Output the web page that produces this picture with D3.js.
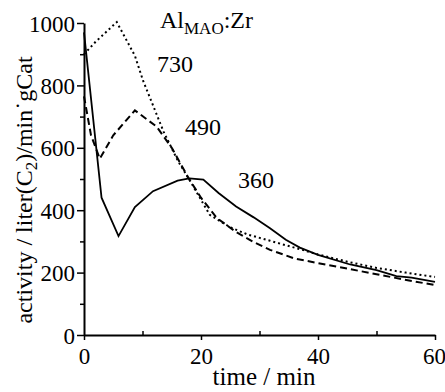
<!DOCTYPE html>
<html>
<head>
<meta charset="utf-8">
<script src="https://cdn.jsdelivr.net/npm/d3@7"></script>
<style>
  body { margin: 0; background: #fff; }
</style>
</head>
<body>
<div id="chart"></div>
<script>
// Activity curves for three Al(MAO):Zr ratios
var time_360 = [0, 3, 5.9, 8.7, 11.8, 16, 18, 20.4, 23, 26, 29, 31.8, 34.5, 36.9, 40, 45.5, 50, 53.4, 56, 60];
var act_360 = [970, 440, 317, 410, 461, 495, 502, 498, 455, 412, 377, 342, 305, 280, 257, 226, 208, 189, 184, 170];

var time_730 = [0, 2, 5.6, 8.7, 10.1, 13.6, 16, 18.1, 21.5, 25, 28, 31.8, 35, 37.5, 40, 45, 50, 55, 60];
var act_730 = [900, 940, 1003, 895, 815, 652, 560, 495, 385, 345, 322, 302, 285, 272, 258, 235, 215, 200, 186];

var time_490 = [0, 1.2, 2.7, 5, 8.7, 12.4, 15, 17.8, 20, 22.7, 26, 29, 31.8, 36, 43.2, 50, 54.6, 60];
var act_490 = [765, 640, 565, 640, 720, 668, 600, 505, 440, 375, 330, 298, 273, 245, 219, 195, 178, 160];

var x_ticks = [0, 20, 40, 60];
var x_minor = [10, 30, 50];
var y_ticks = [0, 200, 400, 600, 800, 1000];
var y_minor = [100, 300, 500, 700, 900];

var curve_labels = ['730', '490', '360'];

var serif = 'Liberation Serif';

// Chart size
var width = 445, height = 392;
var svg = d3.select('#chart').append('svg')
            .attr('width', width)
            .attr('height', height)
            .attr('font-family', serif);

var x = d3.scaleLinear().domain([0, 60]).range([84, 435]);
var y = d3.scaleLinear().domain([0, 1000]).range([335, 23]);

// Axes
var x_axis = svg.append('g')
                .attr('transform', 'translate(0,' + y(0) + ')')
                .call(d3.axisBottom(x).tickValues(x_ticks)
                        .tickSize(5).tickPadding(8)
                        .tickFormat(d3.format('d'))
                        .tickSizeOuter(0));
svg.append('g')
   .attr('transform', 'translate(0,' + y(0) + ')')
   .call(d3.axisTop(x).tickValues(x_minor).tickSize(4)
           .tickFormat('').tickSizeOuter(0))
   .select('.domain').remove();

var y_axis = svg.append('g')
                .attr('transform', 'translate(' + x(0) + ',0)')
                .call(d3.axisLeft(y).tickValues(y_ticks)
                        .tickSize(7).tickPadding(2)
                        .tickFormat(d3.format('d'))
                        .tickSizeOuter(0));
svg.append('g')
   .attr('transform', 'translate(' + x(0) + ',0)')
   .call(d3.axisLeft(y).tickValues(y_minor).tickSize(4)
           .tickFormat('').tickSizeOuter(0))
   .select('.domain').remove();

svg.selectAll('g').attr('font-family', serif).attr('font-size', 23);
svg.selectAll('.domain').attr('stroke', '#000').attr('stroke-width', 2);
svg.selectAll('.tick line').attr('stroke', '#000').attr('stroke-width', 1.5);
y_axis.selectAll('.tick text').attr('dy', '0.35em');
// last x label sits at the right edge
x_axis.selectAll('.tick text').filter(function(d) { return d == 60; })
      .attr('dx', -1);

// Curves
var line = d3.line()
    .x(function(d) { return x(d[0]); })
    .y(function(d) { return y(d[1]); });

function pairs(ts, vs) {
  return ts.map(function(t, i) { return [t, vs[i]]; });
}

var series = [
  { data: pairs(time_730, act_730), dash: '2,3', width: 2 },
  { data: pairs(time_490, act_490), dash: '7,4', width: 2 },
  { data: pairs(time_360, act_360), dash: null, width: 1.8 }
];

series.forEach(function(s) {
  svg.append('path')
     .datum(s.data)
     .attr('fill', 'none')
     .attr('stroke', '#000')
     .attr('stroke-width', s.width)
     .attr('stroke-dasharray', s.dash)
     .attr('d', line);
});

// Curve labels
var label_pos = [[157, 72], [185, 135], [238, 188]];
curve_labels.forEach(function(t, i) {
  svg.append('text')
     .attr('x', label_pos[i][0])
     .attr('y', label_pos[i][1])
     .attr('font-family', serif)
     .attr('font-size', 24)
     .text(t);
});

// Title Al_MAO:Zr
var title = svg.append('text')
               .attr('x', 160)
               .attr('y', 28)
               .attr('font-family', serif)
               .attr('font-size', 24);
title.append('tspan').text('Al');
title.append('tspan').attr('dy', 6).attr('font-size', 17).text('MAO');
title.append('tspan').attr('dy', -6).text(':Zr');

// Axis titles
svg.append('text')
   .attr('x', 264)
   .attr('y', 385)
   .attr('text-anchor', 'middle')
   .attr('font-family', serif)
   .attr('font-size', 25)
   .text('time / min');

var ylab = svg.append('text')
              .attr('transform', 'translate(32,190) rotate(-90)')
              .attr('text-anchor', 'middle')
              .attr('font-family', serif)
              .attr('font-size', 24);
ylab.append('tspan').text('activity / liter(C');
ylab.append('tspan').attr('dy', 5).attr('font-size', 17).text('2');
ylab.append('tspan').attr('dy', -5).text(')/min\u02D9gCat');
</script>
</body>
</html>
